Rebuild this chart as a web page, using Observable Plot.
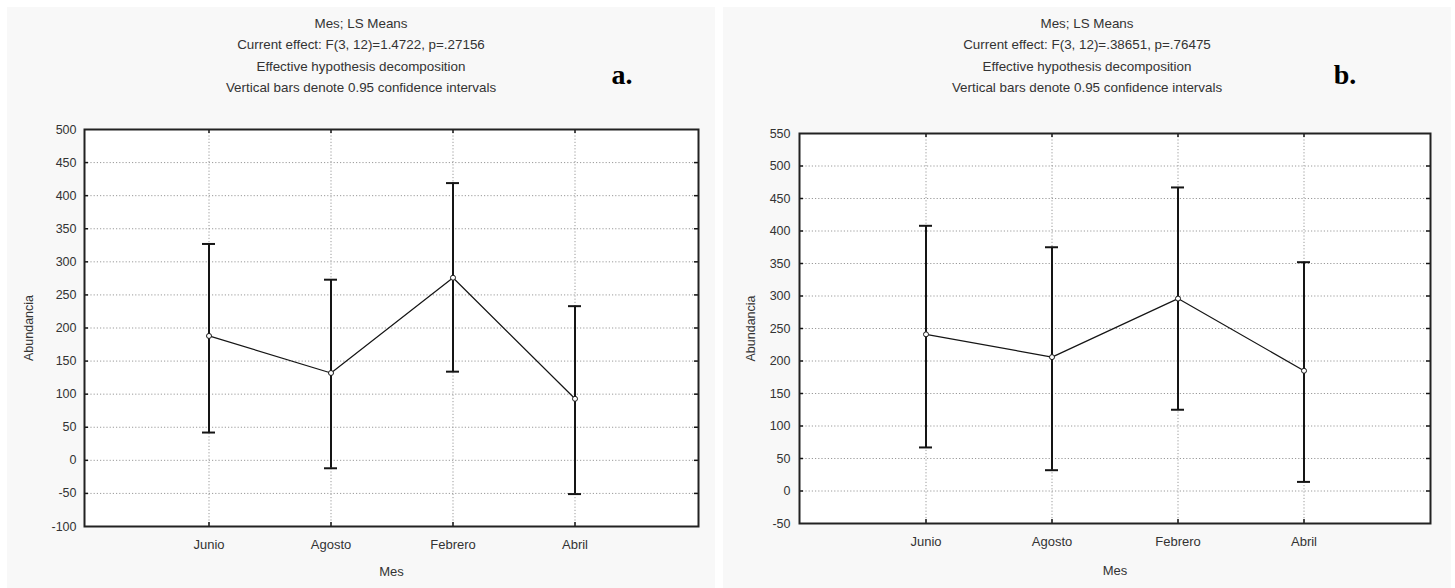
<!DOCTYPE html>
<html><head><meta charset="utf-8">
<script src="https://cdn.jsdelivr.net/npm/d3@7"></script>
<script src="https://cdn.jsdelivr.net/npm/@observablehq/plot@0.6"></script>
<style>
body{margin:0;background:#fff;}
#root{position:relative;width:1455px;height:588px;background:#fff;overflow:hidden;font-family:"Liberation Sans",Arial,sans-serif;}
.panel{position:absolute;background:#f8f8f8;}
.panel svg{position:absolute;left:0;top:0;}
.titles{position:absolute;left:0;right:0;text-align:center;font-size:13.4px;line-height:21.5px;color:#333;letter-spacing:0;white-space:nowrap;}
.letter{position:absolute;font-family:"Liberation Serif","Times New Roman",serif;font-weight:bold;font-size:28px;color:#000;transform:translate(-50%,-50%);}
</style></head><body><div id="root"></div>
<script>
const months = ["Junio", "Agosto", "Febrero", "Abril"];

const meanA = [188, 132, 276, 93];
const loA   = [42, -12, 134, -51];
const hiA   = [327, 273, 419, 233];

const meanB = [241, 206, 296, 185];
const loB   = [67, 32, 125, 14];
const hiB   = [408, 375, 467, 352];

const titlesA = ["Mes; LS Means", "Current effect: F(3, 12)=1.4722, p=.27156", "Effective hypothesis decomposition", "Vertical bars denote 0.95 confidence intervals"];
const titlesB = ["Mes; LS Means", "Current effect: F(3, 12)=.38651, p=.76475", "Effective hypothesis decomposition", "Vertical bars denote 0.95 confidence intervals"];

const yDomainA = [-100, 500];
const yDomainB = [-50, 550];

function makePanel(cfg) {
  const data = months.map((m, i) => ({mes: m, mean: cfg.mean[i], lo: cfg.lo[i], hi: cfg.hi[i]}));
  const fw = cfg.width - cfg.ml - cfg.mr, fh = cfg.height - cfg.mt - cfg.mb;
  const ticks = d3.range(cfg.domain[0], cfg.domain[1] + 1, 50);
  const inner = ticks.filter(t => t > cfg.domain[0] && t < cfg.domain[1]);
  const step = fw / 5, capW = 13;
  const pi = 1 - capW / step, po = (1 + pi) / 2;
  const ink = "#151515";
  const grid = {stroke: "#9a9a9a", strokeOpacity: 1, strokeDasharray: "1.2,2"};
  const plot = Plot.plot({
    width: cfg.width, height: cfg.height,
    marginLeft: cfg.ml, marginRight: cfg.mr, marginTop: cfg.mt, marginBottom: cfg.mb,
    style: {background: "transparent", fontFamily: "'Liberation Sans', Arial, sans-serif", fontSize: "13px", color: "#333"},
    x: {type: "band", domain: months, paddingInner: pi, paddingOuter: po},
    y: {domain: cfg.domain},
    marks: [
      Plot.frame({fill: "white", stroke: null}),
      Plot.gridY(inner, grid),
      Plot.gridX(months, grid),
      Plot.tickY(inner, {y: d => d, insetRight: fw - 4, stroke: ink, strokeWidth: 1.5}),
      Plot.tickY(inner, {y: d => d, insetLeft: fw - 4, stroke: ink, strokeWidth: 1.5}),
      Plot.tickX(months, {x: d => d, insetTop: fh - 4, stroke: ink, strokeWidth: 1.5}),
      Plot.tickX(months, {x: d => d, insetBottom: fh - 4, stroke: ink, strokeWidth: 1.5}),
      Plot.axisY(ticks, {tickSize: 0, tickPadding: cfg.ypad, fontSize: 12.5, fill: "#333", tickFormat: d => String(d),
        label: "Abundancia", labelAnchor: "center", labelOffset: cfg.ylo, labelArrow: "none"}),
      Plot.axisX({tickSize: 0, tickPadding: 13, fontSize: 13, fill: "#333",
        label: "Mes", labelAnchor: "center", labelOffset: cfg.xlo, labelArrow: "none"}),
      Plot.ruleX(data, {x: "mes", y1: "lo", y2: "hi", stroke: ink, strokeWidth: 2}),
      Plot.tickY(data, {x: "mes", y: "hi", stroke: ink, strokeWidth: 2}),
      Plot.tickY(data, {x: "mes", y: "lo", stroke: ink, strokeWidth: 2}),
      Plot.line(data, {x: "mes", y: "mean", stroke: ink, strokeWidth: 1.2}),
      Plot.dot(data, {x: "mes", y: "mean", r: 2.5, fill: "white", stroke: ink, strokeWidth: 1}),
      Plot.frame({stroke: "#222", strokeWidth: 2})
    ]
  });
  const div = document.createElement("div");
  div.className = "panel";
  Object.assign(div.style, {left: cfg.left + "px", top: cfg.top + "px", width: cfg.width + "px", height: cfg.height + "px"});
  div.appendChild(plot);
  const t = document.createElement("div");
  t.className = "titles";
  t.style.top = cfg.titleTop + "px";
  t.innerHTML = cfg.titles.map(s => `<div>${s}</div>`).join("");
  div.appendChild(t);
  const l = document.createElement("div");
  l.className = "letter";
  l.style.left = cfg.letterX + "px";
  l.style.top = cfg.letterY + "px";
  l.textContent = cfg.letter;
  div.appendChild(l);
  document.getElementById("root").appendChild(div);
}

makePanel({left: 7, top: 7, width: 708, height: 581, ml: 77, mr: 17, mt: 122, mb: 62,
  mean: meanA, lo: loA, hi: hiA, domain: yDomainA, titles: titlesA, titleTop: 5.5,
  letter: "a.", letterX: 615, letterY: 68, ypad: 8, ylo: 60.5, xlo: 49});
makePanel({left: 723, top: 7, width: 728, height: 581, ml: 76, mr: 21, mt: 126, mb: 65,
  mean: meanB, lo: loB, hi: hiB, domain: yDomainB, titles: titlesB, titleTop: 5.5,
  letter: "b.", letterX: 622, letterY: 68, ypad: 9, ylo: 53.5, xlo: 51});
</script></body></html>
